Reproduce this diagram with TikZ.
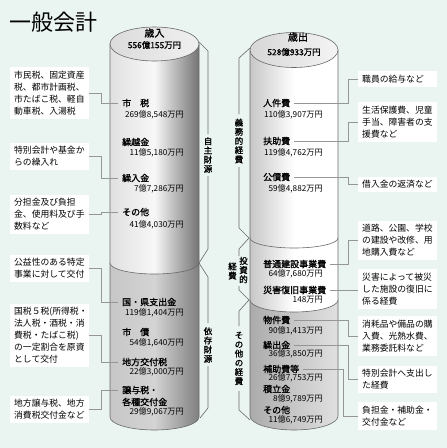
\documentclass[tikz,border=0pt]{standalone}
\usepackage{fontspec}
\setmainfont{Noto Sans CJK JP}
\newfontfamily\medfont{Noto Sans CJK JP}[FakeBold=1.2]
\definecolor{bgc}{RGB}{234,245,242}
\definecolor{edgec}{RGB}{105,105,105}
\definecolor{connc}{RGB}{150,150,150}
\tikzset{
  lbox/.style={fill=white, anchor=west, text width=70.4pt, inner xsep=4pt, inner ysep=3.5pt, align=left, font=\fontsize{8.8}{12}\selectfont},
  rbox/.style={lbox},
  ttl/.style={anchor=west, inner xsep=4pt, inner ysep=1pt, font=\medfont\fontsize{9}{10}\selectfont},
  amt/.style={anchor=east, inner sep=0pt, font=\fontsize{8.2}{9}\selectfont},
  vlab/.style={inner sep=0pt, align=center, font=\medfont\fontsize{8.5}{9.2}\selectfont},
  conn/.style={draw=connc, line width=0.6pt},
  brk/.style={draw=edgec, line width=0.6pt},
  cyl/.style={draw=edgec, line width=0.6pt},
}
\begin{document}
\begin{tikzpicture}[x=1pt,y=1pt]
\fill[bgc] (0,0) rectangle (447,-448);
\useasboundingbox (0,0) rectangle (447,-448);

% title
\node[anchor=west, inner sep=0pt, font=\fontsize{22}{24}\selectfont] (title) at (9,-22) {一般会計};

% ---------------- income cylinder ----------------
\path[cyl, left color=black!22, right color=black!50, middle color=black!17]
  (110,-263) -- (110,-417) arc[start angle=180, end angle=360, x radius=44.5, y radius=13] -- (199,-263) -- cycle;
\path[cyl, left color=black!12, right color=black!55, middle color=black!3]
  (110,-44) -- (110,-263) arc[start angle=180, end angle=360, x radius=44.5, y radius=11] -- (199,-44) -- cycle;
\path[cyl, left color=black!14, right color=black!6] (154.5,-44) ellipse[x radius=44.5, y radius=17];

% ---------------- expense cylinder ----------------
\path[cyl, left color=black!33, right color=black!12, middle color=black!22]
  (250,-300) -- (250,-416) arc[start angle=180, end angle=360, x radius=44, y radius=14] -- (338,-300) -- cycle;
\path[cyl, left color=black!22, right color=white, middle color=white]
  (250,-238) -- (250,-300) arc[start angle=180, end angle=360, x radius=44, y radius=12] -- (338,-238) -- cycle;
\path[cyl, left color=black!22, right color=white, middle color=white]
  (250,-50) -- (250,-238) arc[start angle=180, end angle=360, x radius=44, y radius=10] -- (338,-50) -- cycle;
\path[cyl, left color=black!16, right color=black!4] (294,-50) ellipse[x radius=44, y radius=17.5];

% headers
\node[font=\medfont\fontsize{10}{11}\selectfont, inner sep=0pt] (inc) at (154.5,-33) {歳入};
\node[font=\medfont\fontsize{8.4}{9}\selectfont, inner sep=0pt] (inctot) at (154.5,-45) {556億155万円};
\node[font=\medfont\fontsize{10}{11}\selectfont, inner sep=0pt] (exp) at (298,-37) {歳出};
\node[font=\medfont\fontsize{8.4}{9}\selectfont, inner sep=0pt] (exptot) at (294,-52) {528億933万円};

% ---------------- income items ----------------
\node[ttl] (I1) at (118,-103) {市　税};
\node[amt] (A1) at (184,-115) {269億8,548万円};
\node[ttl] (I2) at (118,-142) {繰越金};
\node[amt] (A2) at (184,-153) {11億5,180万円};
\node[ttl] (I3) at (118,-178) {繰入金};
\node[amt] (A3) at (184,-189) {7億7,286万円};
\node[ttl] (I4) at (118,-212) {その他};
\node[amt] (A4) at (184,-225) {41億4,030万円};
\node[ttl] (I5) at (118,-302) {国・県支出金};
\node[amt] (A5) at (184,-313) {119億1,404万円};
\node[ttl] (I6) at (118,-332) {市　債};
\node[amt] (A6) at (184,-343) {54億1,640万円};
\node[ttl] (I7) at (118,-362) {地方交付税};
\node[amt] (A7) at (184,-372) {22億3,000万円};
\node[ttl] (I8) at (118,-390) {譲与税・};
\node[ttl] (I8b) at (118,-402) {各種交付金};
\node[amt] (A8) at (184,-412) {29億9,067万円};

% ---------------- expense items ----------------
\node[ttl] (E1) at (259,-103) {人件費};
\node[amt] (B1) at (323,-115) {110億3,907万円};
\node[ttl] (E2) at (259,-141) {扶助費};
\node[amt] (B2) at (323,-153) {119億4,762万円};
\node[ttl] (E3) at (259,-177) {公債費};
\node[amt] (B3) at (323,-189) {59億4,882万円};
\node[ttl] (E4) at (259,-264) {普通建設事業費};
\node[amt] (B4) at (323,-274) {64億7,680万円};
\node[ttl] (E5) at (259,-290) {災害復旧事業費};
\node[amt] (B5) at (323,-300) {148万円};
\node[ttl] (E6) at (259,-320) {物件費};
\node[amt] (B6) at (323,-331) {90億1,413万円};
\node[ttl] (E7) at (259,-345) {繰出金};
\node[amt] (B7) at (323,-354) {36億3,850万円};
\node[ttl] (E8) at (259,-369) {補助費等};
\node[amt] (B8) at (323,-378) {26億7,753万円};
\node[ttl] (E9) at (259,-389) {積立金};
\node[amt] (B9) at (323,-399) {8億9,789万円};
\node[ttl] (E10) at (259,-410) {その他};
\node[amt] (B10) at (323,-420) {11億6,749万円};

% ---------------- brackets ----------------
\draw[brk] (199,-42) -- (208,-51) -- (208,-134);
\draw[brk] (208,-176) -- (208,-249) -- (199,-263) -- (208,-277) -- (208,-323);
\draw[brk] (208,-366) -- (208,-408) -- (200,-418);
\node[vlab] (V1) at (208,-155) {自\\主\\財\\源};
\node[vlab] (V2) at (208,-345) {依\\存\\財\\源};

\draw[brk] (250,-48) -- (239,-58) -- (239,-114);
\draw[brk] (239,-167) -- (239,-228) -- (249,-238) -- (239,-249) -- (239,-256);
\draw[brk] (239,-286) -- (239,-290) -- (249,-300) -- (239,-311) -- (239,-326);
\draw[brk] (239,-391) -- (239,-410) -- (250,-420);
\node[vlab] (V3) at (239,-141) {義\\務\\的\\経\\費};
\node[vlab] (V4) at (243.5,-270) {投\\資\\的};
\node[vlab] (V5) at (232.5,-271) {経\\費};
\node[vlab] (V6) at (239,-358.5) {そ\\の\\他\\の\\経\\費};

% ---------------- left boxes ----------------
\node[lbox] (L1) at (10,-93) {市民税、固定資産\\税、都市計画税、\\市たばこ税、軽自\\動車税、入湯税};
\node[lbox] (L2) at (10,-156.5) {特別会計や基金か\\らの繰入れ};
\node[lbox] (L3) at (10,-214.5) {分担金及び負担\\金、使用料及び手\\数料など};
\node[lbox] (L4) at (10,-268.5) {公益性のある特定\\事業に対して交付};
\node[lbox] (L5) at (10,-335.5) {国税５税(所得税・\\法人税・酒税・消\\費税・たばこ税)\\の一定割合を原資\\として交付};
\node[lbox] (L6) at (10,-409.5) {地方譲与税、地方\\消費税交付金など};

% ---------------- right boxes ----------------
\node[rbox] (R1) at (358,-79) {職員の給与など};
\node[rbox] (R2) at (358,-122) {生活保護費、児童\\手当、障害者の支\\援費など};
\node[rbox] (R3) at (358,-184.5) {借入金の返済など};
\node[rbox] (R4) at (358,-240.5) {道路、公園、学校\\の建設や改修、用\\地購入費など};
\node[rbox] (R5) at (358,-289) {災害によって被災\\した施設の復旧に\\係る経費};
\node[rbox] (R6) at (358,-336) {消耗品や備品の購\\入費、光熱水費、\\業務委託料など};
\node[rbox] (R7) at (358,-379.5) {特別会計へ支出し\\た経費};
\node[rbox] (R8) at (358,-416) {負担金・補助金・\\交付金など};

% ---------------- connectors ----------------
\draw[conn] (L1.east) -- ++(12,0) |- (I1.west);
\draw[conn] (L2.east) -- ++(12,0) |- (I3.west);
\draw[conn] (L3.east) -- ++(12,0) |- (I4.west);
\draw[conn] (L4.east) -- ++(12,0) |- (I5.west);
\draw[conn] (L5.east) -- ++(12,0) |- (I7.west);
\draw[conn] (L6.east) -- ++(12,0) |- (I8.west);

\draw[conn] (E1.east) -| ([xshift=-10pt]R1.west) -- (R1.west);
\draw[conn] (E2.east) -| ([xshift=-10pt]R2.west) -- (R2.west);
\draw[conn] (E3.east) -| ([xshift=-10pt]R3.west) -- (R3.west);
\draw[conn] (E4.east) -| ([xshift=-10pt]R4.west) -- (R4.west);
\draw[conn] (E5.east) -- (E5.east -| R5.west);
\draw[conn] (E6.east) -| ([xshift=-10pt]R6.west) -- (R6.west);
\draw[conn] (E7.east) -| ([xshift=-10pt]R7.west) -- (R7.west);
\draw[conn] (E8.east) -| ([xshift=-15pt]R8.west) -- (R8.west);
\end{tikzpicture}
\end{document}
